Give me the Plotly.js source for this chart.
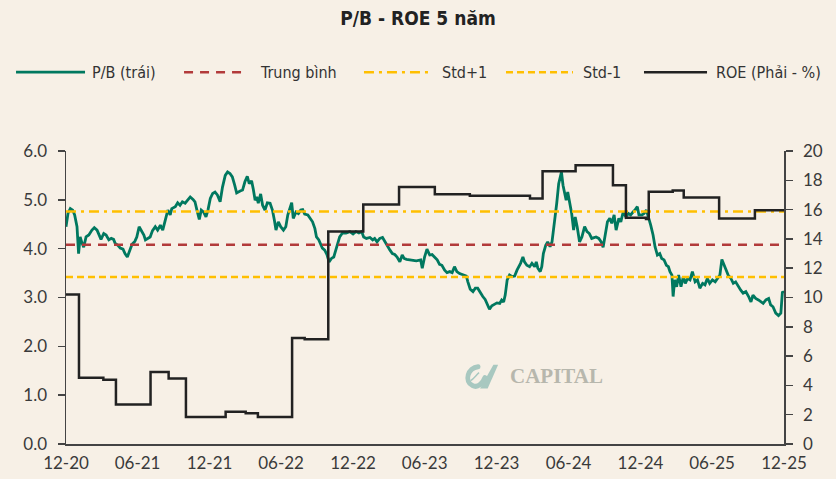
<!DOCTYPE html>
<html><head><meta charset="utf-8">
<script src="https://cdn.plot.ly/plotly-3.0.1.min.js"></script>
<style>html,body{margin:0;padding:0;background:#f7f0e6;}#chart{width:836px;height:479px;}</style>
</head><body><div id="chart"></div>
<script>
// ---------- DATA ----------
const pbDates = [
'2020-12-01','2020-12-06','2020-12-12','2020-12-18','2020-12-23','2020-12-29',
'2021-01-02','2021-01-06','2021-01-11','2021-01-15','2021-01-21','2021-01-28',
'2021-02-05','2021-02-11','2021-02-18','2021-02-24','2021-02-28',
'2021-03-07','2021-03-13','2021-03-20','2021-03-26',
'2021-04-01','2021-04-05','2021-04-12','2021-04-18','2021-04-25','2021-04-30',
'2021-05-06','2021-05-12','2021-05-18','2021-05-25','2021-05-30',
'2021-06-05','2021-06-10','2021-06-17','2021-06-21','2021-06-27',
'2021-07-03','2021-07-09','2021-07-16','2021-07-22','2021-07-29',
'2021-08-04','2021-08-10','2021-08-17','2021-08-23','2021-08-27',
'2021-09-05','2021-09-11','2021-09-17','2021-09-23','2021-09-30',
'2021-10-07','2021-10-13','2021-10-20','2021-10-25','2021-10-30',
'2021-11-05','2021-11-10','2021-11-16','2021-11-22','2021-11-27',
'2021-12-03','2021-12-09','2021-12-15','2021-12-21','2021-12-28',
'2022-01-03','2022-01-10','2022-01-16','2022-01-22','2022-01-28',
'2022-02-03','2022-02-08','2022-02-17','2022-02-23',
'2022-03-01','2022-03-07','2022-03-12','2022-03-18','2022-03-22','2022-03-27','2022-03-31',
'2022-04-04','2022-04-10','2022-04-15','2022-04-21','2022-04-27',
'2022-05-04','2022-05-10','2022-05-15','2022-05-19','2022-05-25','2022-05-31',
'2022-06-07','2022-06-13','2022-06-18','2022-06-24','2022-06-28',
'2022-07-02','2022-07-09','2022-07-15','2022-07-21','2022-07-26','2022-07-31',
'2022-08-08','2022-08-13','2022-08-20','2022-08-26','2022-08-30',
'2022-09-05','2022-09-10','2022-09-14','2022-09-20','2022-09-26',
'2022-10-01','2022-10-07','2022-10-13','2022-10-18','2022-10-23','2022-10-28',
'2022-11-04','2022-11-13','2022-11-23',
'2022-12-01','2022-12-08','2022-12-16','2022-12-23','2022-12-28',
'2023-01-04','2023-01-13','2023-01-20','2023-01-25','2023-01-31',
'2023-02-07','2023-02-14','2023-02-20','2023-02-26',
'2023-03-05','2023-03-11','2023-03-17','2023-03-23','2023-03-30',
'2023-04-05','2023-04-10','2023-04-16','2023-04-24',
'2023-05-03','2023-05-11','2023-05-22','2023-05-26',
'2023-06-01','2023-06-07','2023-06-14','2023-06-20','2023-06-26',
'2023-07-03','2023-07-09','2023-07-15','2023-07-22','2023-07-28',
'2023-08-04','2023-08-10','2023-08-16','2023-08-22','2023-08-29',
'2023-09-07','2023-09-15','2023-09-19','2023-09-25',
'2023-10-02','2023-10-08','2023-10-14','2023-10-21','2023-10-27',
'2023-11-02','2023-11-07','2023-11-13','2023-11-19','2023-11-26',
'2023-12-02','2023-12-09','2023-12-14','2023-12-19','2023-12-23','2023-12-28',
'2024-01-03','2024-01-09','2024-01-16','2024-01-22','2024-01-27','2024-01-31',
'2024-02-06','2024-02-10','2024-02-16','2024-02-23','2024-02-29',
'2024-03-07','2024-03-11','2024-03-15','2024-03-21','2024-03-25','2024-03-29',
'2024-04-04','2024-04-09','2024-04-15','2024-04-20','2024-04-24','2024-04-28',
'2024-05-02','2024-05-07','2024-05-11','2024-05-14','2024-05-18','2024-05-22','2024-05-26','2024-05-30',
'2024-06-04','2024-06-09','2024-06-14','2024-06-18','2024-06-23','2024-06-29',
'2024-07-05','2024-07-12','2024-07-18','2024-07-24','2024-07-30',
'2024-08-07','2024-08-10','2024-08-17','2024-08-23','2024-08-28',
'2024-09-02','2024-09-08','2024-09-14','2024-09-19','2024-09-25','2024-09-30',
'2024-10-07','2024-10-12','2024-10-18','2024-10-25','2024-10-31',
'2024-11-06','2024-11-12','2024-11-17','2024-11-23','2024-11-27',
'2024-12-05','2024-12-10','2024-12-16','2024-12-21','2024-12-27',
'2025-01-02','2025-01-07','2025-01-13','2025-01-19','2025-01-24','2025-01-30',
'2025-02-05','2025-02-10','2025-02-14','2025-02-19','2025-02-22','2025-02-26',
'2025-03-03','2025-03-08','2025-03-14','2025-03-20','2025-03-25','2025-03-31',
'2025-04-06','2025-04-12','2025-04-19','2025-04-25',
'2025-05-01','2025-05-08','2025-05-14','2025-05-20','2025-05-26',
'2025-06-02','2025-06-09','2025-06-15','2025-06-21','2025-06-26','2025-06-30',
'2025-07-06','2025-07-12','2025-07-19','2025-07-25','2025-07-31',
'2025-08-07','2025-08-13','2025-08-19','2025-08-26',
'2025-09-02','2025-09-08','2025-09-13','2025-09-20','2025-09-27',
'2025-10-03','2025-10-09','2025-10-16','2025-10-23','2025-10-28',
'2025-11-03','2025-11-10','2025-11-17','2025-11-23','2025-11-27','2025-12-01'
];
const pbValues = [
4.45,4.72,4.82,4.79,4.69,4.45,
3.90,4.24,4.11,4.03,4.24,4.28,
4.38,4.43,4.38,4.28,4.19,
4.31,4.28,4.18,4.21,
4.19,4.11,4.07,4.01,3.99,3.90,
3.83,3.97,4.09,4.15,4.24,
4.45,4.38,4.28,4.18,4.21,
4.24,4.37,4.45,4.38,4.48,
4.38,4.55,4.79,4.69,4.82,
4.86,4.94,4.89,4.96,4.93,
5.01,5.06,5.01,4.96,4.79,
4.60,4.79,4.75,4.65,4.79,
5.03,5.13,5.16,5.10,4.96,
5.26,5.50,5.57,5.54,5.47,
5.30,5.14,5.18,5.20,
5.37,5.48,5.33,5.39,5.23,4.99,5.06,
4.93,5.12,4.89,4.79,4.94,
4.93,4.79,4.58,4.38,4.55,4.45,
4.38,4.45,4.69,4.82,4.94,
4.62,4.75,4.72,4.79,4.80,4.71,
4.69,4.62,4.55,4.41,4.24,
4.18,4.07,4.01,3.97,3.87,
3.73,3.80,3.83,3.97,4.14,4.24,
4.32,4.32,4.35,
4.30,4.35,4.32,4.35,4.24,
4.21,4.23,4.18,4.21,4.14,
4.21,4.23,4.14,4.05,
3.97,3.90,3.88,3.83,3.73,
3.87,3.80,3.78,3.77,
3.77,3.75,3.77,3.60,
3.83,3.99,3.87,3.88,3.83,
3.77,3.68,3.66,3.56,3.51,
3.53,3.51,3.63,3.53,3.49,
3.46,3.44,3.32,3.17,
3.12,3.19,3.19,3.09,3.02,
2.96,2.87,2.76,2.83,2.87,
2.89,2.88,2.95,2.91,3.05,3.36,
3.46,3.43,3.44,3.56,3.63,3.70,
3.83,3.73,3.66,3.63,3.70,
3.63,3.73,3.60,3.53,3.63,3.90,
4.07,4.14,4.04,4.14,4.38,4.65,
4.93,5.33,5.50,5.57,5.30,5.13,4.99,5.16,
4.93,4.72,4.38,4.65,4.45,4.14,
4.24,4.45,4.35,4.31,4.21,
4.23,4.24,4.21,4.14,4.03,
4.31,4.55,4.62,4.52,4.69,4.38,
4.62,4.55,4.75,4.65,4.72,
4.69,4.75,4.79,4.86,4.69,
4.69,4.72,4.79,4.62,4.48,
4.28,4.04,3.87,3.90,3.80,3.77,
3.66,3.63,3.53,3.46,3.02,3.36,
3.22,3.46,3.22,3.43,3.29,3.39,
3.36,3.53,3.32,3.36,
3.19,3.29,3.26,3.39,3.29,
3.36,3.32,3.39,3.46,3.78,3.70,
3.56,3.46,3.39,3.29,3.32,
3.22,3.15,3.09,3.12,
3.02,2.91,3.05,2.98,2.95,
2.91,2.88,2.95,2.98,2.85,
2.81,2.68,2.63,2.68,3.12,3.09
];
const roeDates = [
'2020-12-01','2021-01-03','2021-03-06','2021-04-07','2021-07-04','2021-08-19',
'2021-10-02','2022-01-11','2022-03-03','2022-04-03','2022-06-29','2022-07-31',
'2022-09-29','2022-12-27','2023-03-28','2023-06-27','2023-09-24','2024-02-24',
'2024-03-27','2024-06-19','2024-09-22','2024-10-25','2024-12-15','2024-12-22',
'2025-02-21','2025-03-21','2025-06-19','2025-09-18','2025-12-01'
];
const roeValues = [
10.2,4.53,4.38,2.70,4.92,4.47,
1.84,2.20,2.10,1.84,7.24,7.15,
14.51,16.35,17.55,17.05,16.94,16.76,
18.62,19.03,17.66,15.44,15.35,17.21,
17.30,16.83,15.39,15.96,15.96
];
const meanValue = 4.08;
const stdPlus1Value = 4.76;
const stdMinus1Value = 3.42;
const seriesNames = ['P/B (trái)', 'Trung bình', 'Std+1', 'Std-1', 'ROE (Phải - %)'];
const yLeftTicks = [0, 1, 2, 3, 4, 5, 6];
const yRightTicks = [0, 2, 4, 6, 8, 10, 12, 14, 16, 18, 20];
const chartTitle = 'P/B - ROE 5 năm';
const watermarkText = 'CAPITAL';

// ---------- STYLE ----------
const BG = '#f7f0e6';
const TICKFONT = {family: 'Lato, sans-serif', size: 17, color: '#3a3a3a'};
const NARROW = "'Liberation Sans Narrow', 'DejaVu Sans Condensed', Roboto, sans-serif";
const styles = [
  {color: '#00785f', width: 2.8, dash: 'solid'},
  {color: '#b23a3a', width: 2.5, dash: '9px,7px'},
  {color: '#ffbf00', width: 2.5, dash: '10px,5px,3px,5px'},
  {color: '#ffbf00', width: 2.5, dash: '7px,4px'},
  {color: '#222222', width: 2.5, dash: 'solid'}
];

const xStart = pbDates[0], xEnd = pbDates[pbDates.length - 1];
const traces = [
  {x: pbDates, y: pbValues, type: 'scatter', mode: 'lines', name: seriesNames[0], line: styles[0], yaxis: 'y'},
  {x: [xStart, xEnd], y: [meanValue, meanValue], type: 'scatter', mode: 'lines', name: seriesNames[1], line: styles[1], yaxis: 'y'},
  {x: [xStart, xEnd], y: [stdPlus1Value, stdPlus1Value], type: 'scatter', mode: 'lines', name: seriesNames[2], line: styles[2], yaxis: 'y'},
  {x: [xStart, xEnd], y: [stdMinus1Value, stdMinus1Value], type: 'scatter', mode: 'lines', name: seriesNames[3], line: styles[3], yaxis: 'y'},
  {x: roeDates, y: roeValues, type: 'scatter', mode: 'lines', name: seriesNames[4], line: Object.assign({shape: 'hv'}, styles[4]), yaxis: 'y2'}
];
traces.forEach(t => { t.showlegend = false; t.hoverinfo = 'skip'; });

// manual legend (paper coords)
const legendY = 1.269;
const legendPos = [
  {x0: -0.0696, x1: 0.0265, tx: 0.0334},
  {x0: 0.1644, x1: 0.2507, tx: 0.2674},
  {x0: 0.4150, x1: 0.5056, tx: 0.5209},
  {x0: 0.6128, x1: 0.7061, tx: 0.7173},
  {x0: 0.8050, x1: 0.8928, tx: 0.9025}
];
const shapes = legendPos.map((p, i) => ({
  type: 'line', xref: 'paper', yref: 'paper', x0: p.x0, x1: p.x1, y0: legendY, y1: legendY,
  line: {color: styles[i].color, width: styles[i].width, dash: styles[i].dash}
}));
const annotations = legendPos.map((p, i) => ({
  xref: 'paper', yref: 'paper', x: p.tx, y: legendY, xanchor: 'left', yanchor: 'middle',
  text: seriesNames[i], showarrow: false, font: {family: NARROW, size: 16, color: '#333'}
}));
annotations.push({
  xref: 'paper', yref: 'paper', x: 0.6156, y: 0.233, xanchor: 'left', yanchor: 'middle',
  text: watermarkText, showarrow: false,
  font: {family: "'Liberation Serif', 'DejaVu Serif', serif", size: 21, color: '#b7b7ad', weight: 'bold'}
});

const logoSvg = "<svg xmlns='http://www.w3.org/2000/svg' viewBox='0 0 40 30'>" +
  "<path d='M17 5 C6 6 2 20 11 24 C17 27 22 21 24 16' fill='none' stroke='#a8c8c0' stroke-width='5' stroke-linecap='round'/>" +
  "<path d='M9 19 C13 17 15 13 18 11' fill='none' stroke='#a8c8c0' stroke-width='1.5'/>" +
  "<path d='M19 27 L33 3 L38 3 L27 27 Z' fill='#a8c8c0'/></svg>";

const layout = {
  width: 836, height: 479,
  paper_bgcolor: BG, plot_bgcolor: BG,
  margin: {l: 66, r: 52, t: 151, b: 35},
  title: {
    text: '<b>' + chartTitle + '</b>', xref: 'container', x: 0.5, xanchor: 'center',
    yref: 'container', y: 0.962, yanchor: 'middle',
    font: {family: NARROW, size: 19, color: '#222'}
  },
  showlegend: false,
  xaxis: {
    type: 'date', range: [xStart, xEnd], tick0: xStart, dtick: 'M6', tickformat: '%m-%y',
    showgrid: false, zeroline: false, showline: true, linecolor: '#444', linewidth: 1.5,
    ticks: '', tickfont: TICKFONT, ticklabelstandoff: 3
  },
  yaxis: {
    range: [0, 6], tickvals: yLeftTicks, tickformat: '.1f', showgrid: false, zeroline: false,
    showline: true, linecolor: '#444', linewidth: 1.5, ticks: 'outside', ticklen: 7,
    tickcolor: '#444', tickwidth: 1.5, tickfont: TICKFONT, ticklabelstandoff: 7
  },
  yaxis2: {
    range: [0, 20], tickvals: yRightTicks, overlaying: 'y', side: 'right', showgrid: false,
    zeroline: false, showline: true, linecolor: '#444', linewidth: 1.5, ticks: 'outside', ticklen: 7,
    tickcolor: '#444', tickwidth: 1.5, tickfont: TICKFONT, ticklabelstandoff: 7
  },
  shapes: shapes,
  annotations: annotations,
  images: [{
    source: 'data:image/svg+xml;charset=utf-8,' + encodeURIComponent(logoSvg),
    xref: 'paper', yref: 'paper', x: 0.5515, y: 0.281, sizex: 0.053, sizey: 0.102,
    xanchor: 'left', yanchor: 'top', sizing: 'stretch', layer: 'below'
  }]
};

Plotly.newPlot('chart', traces, layout, {staticPlot: true, displayModeBar: false});
</script>
</body></html>
